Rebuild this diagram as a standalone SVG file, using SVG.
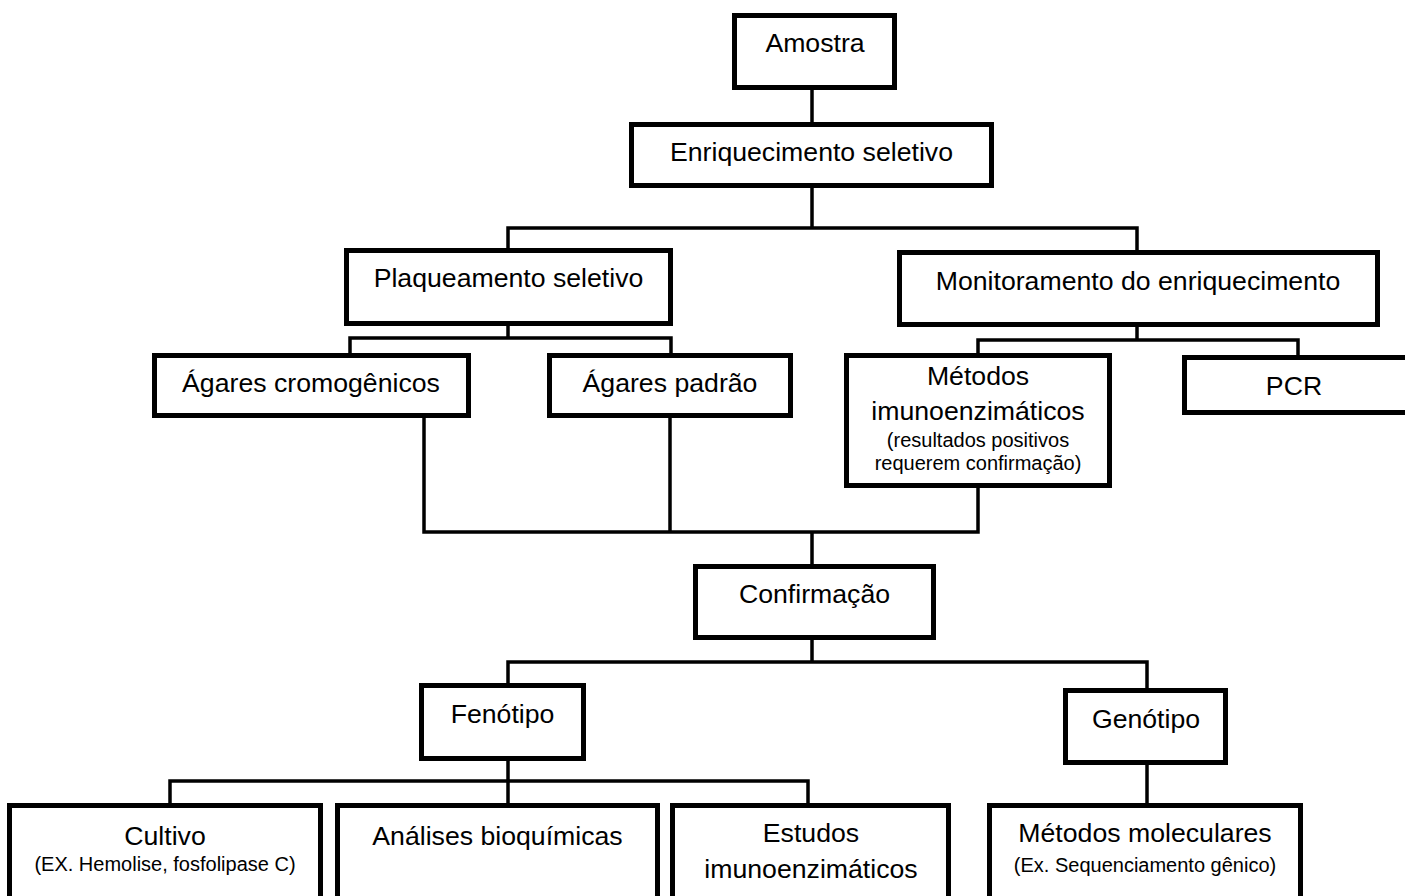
<svg xmlns="http://www.w3.org/2000/svg" width="1405" height="896" viewBox="0 0 1405 896">
<style>
.box{fill:#fff;stroke:#000;stroke-width:5}
.c{fill:none;stroke:#000;stroke-width:3.5;stroke-linecap:square}
.t{font-family:"Liberation Sans",Arial,sans-serif;font-size:26.67px;fill:#000;text-anchor:middle}
.s{font-family:"Liberation Sans",Arial,sans-serif;font-size:20px;fill:#000;text-anchor:middle}
</style>
<rect width="1405" height="896" fill="#fff"/>
<g id="connectors">
<path class="c" d="M812,90V122"/>
<path class="c" d="M812,188V228M508,228H1137M508,228V248M1137,228V250"/>
<path class="c" d="M508,326V338M350,338H671M350,338V353M671,338V353"/>
<path class="c" d="M1137,327V340M978,340H1298M978,340V353M1298,340V355"/>
<path class="c" d="M424,418V532M670,418V532M978,488V532M424,532H978M812,532V564"/>
<path class="c" d="M812,640V662M508,662H1147M508,662V683M1147,662V688"/>
<path class="c" d="M508,761V781M170,781H808M170,781V803M508,781V803M808,781V803"/>
<path class="c" d="M1147,765V803"/>
</g>
<g id="amostra"><rect class="box" x="734.5" y="15.5" width="160" height="72"/><text class="t" x="815" y="52">Amostra</text></g>
<g id="enriquecimento"><rect class="box" x="631.5" y="124.5" width="360" height="61"/><text class="t" x="811.5" y="161">Enriquecimento seletivo</text></g>
<g id="plaqueamento"><rect class="box" x="346.5" y="250.5" width="324" height="73"/><text class="t" x="508.5" y="287">Plaqueamento seletivo</text></g>
<g id="monitoramento"><rect class="box" x="899.5" y="252.5" width="478" height="72"/><text class="t" x="1138" y="290">Monitoramento do enriquecimento</text></g>
<g id="agares-cromogenicos"><rect class="box" x="154.5" y="355.5" width="314" height="60"/><text class="t" x="311" y="392">Ágares cromogênicos</text></g>
<g id="agares-padrao"><rect class="box" x="549.5" y="355.5" width="241" height="60"/><text class="t" x="670" y="392">Ágares padrão</text></g>
<g id="metodos-imuno"><rect class="box" x="846.5" y="355.5" width="263" height="130"/>
<text class="t" x="978" y="385">Métodos</text><text class="t" x="978" y="420">imunoenzimáticos</text>
<text class="s" x="978" y="447">(resultados positivos</text><text class="s" x="978" y="470">requerem confirmação)</text></g>
<g id="pcr"><rect class="box" x="1184.5" y="357.5" width="227" height="55"/><text class="t" x="1294" y="395">PCR</text></g>
<g id="confirmacao"><rect class="box" x="695.5" y="566.5" width="238" height="71"/><text class="t" x="814.5" y="603">Confirmação</text></g>
<g id="fenotipo"><rect class="box" x="421.5" y="685.5" width="162" height="73"/><text class="t" x="502.5" y="723">Fenótipo</text></g>
<g id="genotipo"><rect class="box" x="1065.5" y="690.5" width="160" height="72"/><text class="t" x="1146" y="728">Genótipo</text></g>
<g id="cultivo"><rect class="box" x="9.5" y="805.5" width="311" height="120"/><text class="t" x="165" y="845">Cultivo</text><text class="s" x="165" y="871">(EX. Hemolise, fosfolipase C)</text></g>
<g id="analises"><rect class="box" x="337.5" y="805.5" width="320" height="120"/><text class="t" x="497.5" y="845">Análises bioquímicas</text></g>
<g id="estudos"><rect class="box" x="672.5" y="805.5" width="276" height="120"/><text class="t" x="811" y="842">Estudos</text><text class="t" x="811" y="878">imunoenzimáticos</text></g>
<g id="metodos-moleculares"><rect class="box" x="989.5" y="805.5" width="311" height="120"/><text class="t" x="1145" y="842">Métodos moleculares</text><text class="s" x="1145" y="872">(Ex. Sequenciamento gênico)</text></g>
</svg>
